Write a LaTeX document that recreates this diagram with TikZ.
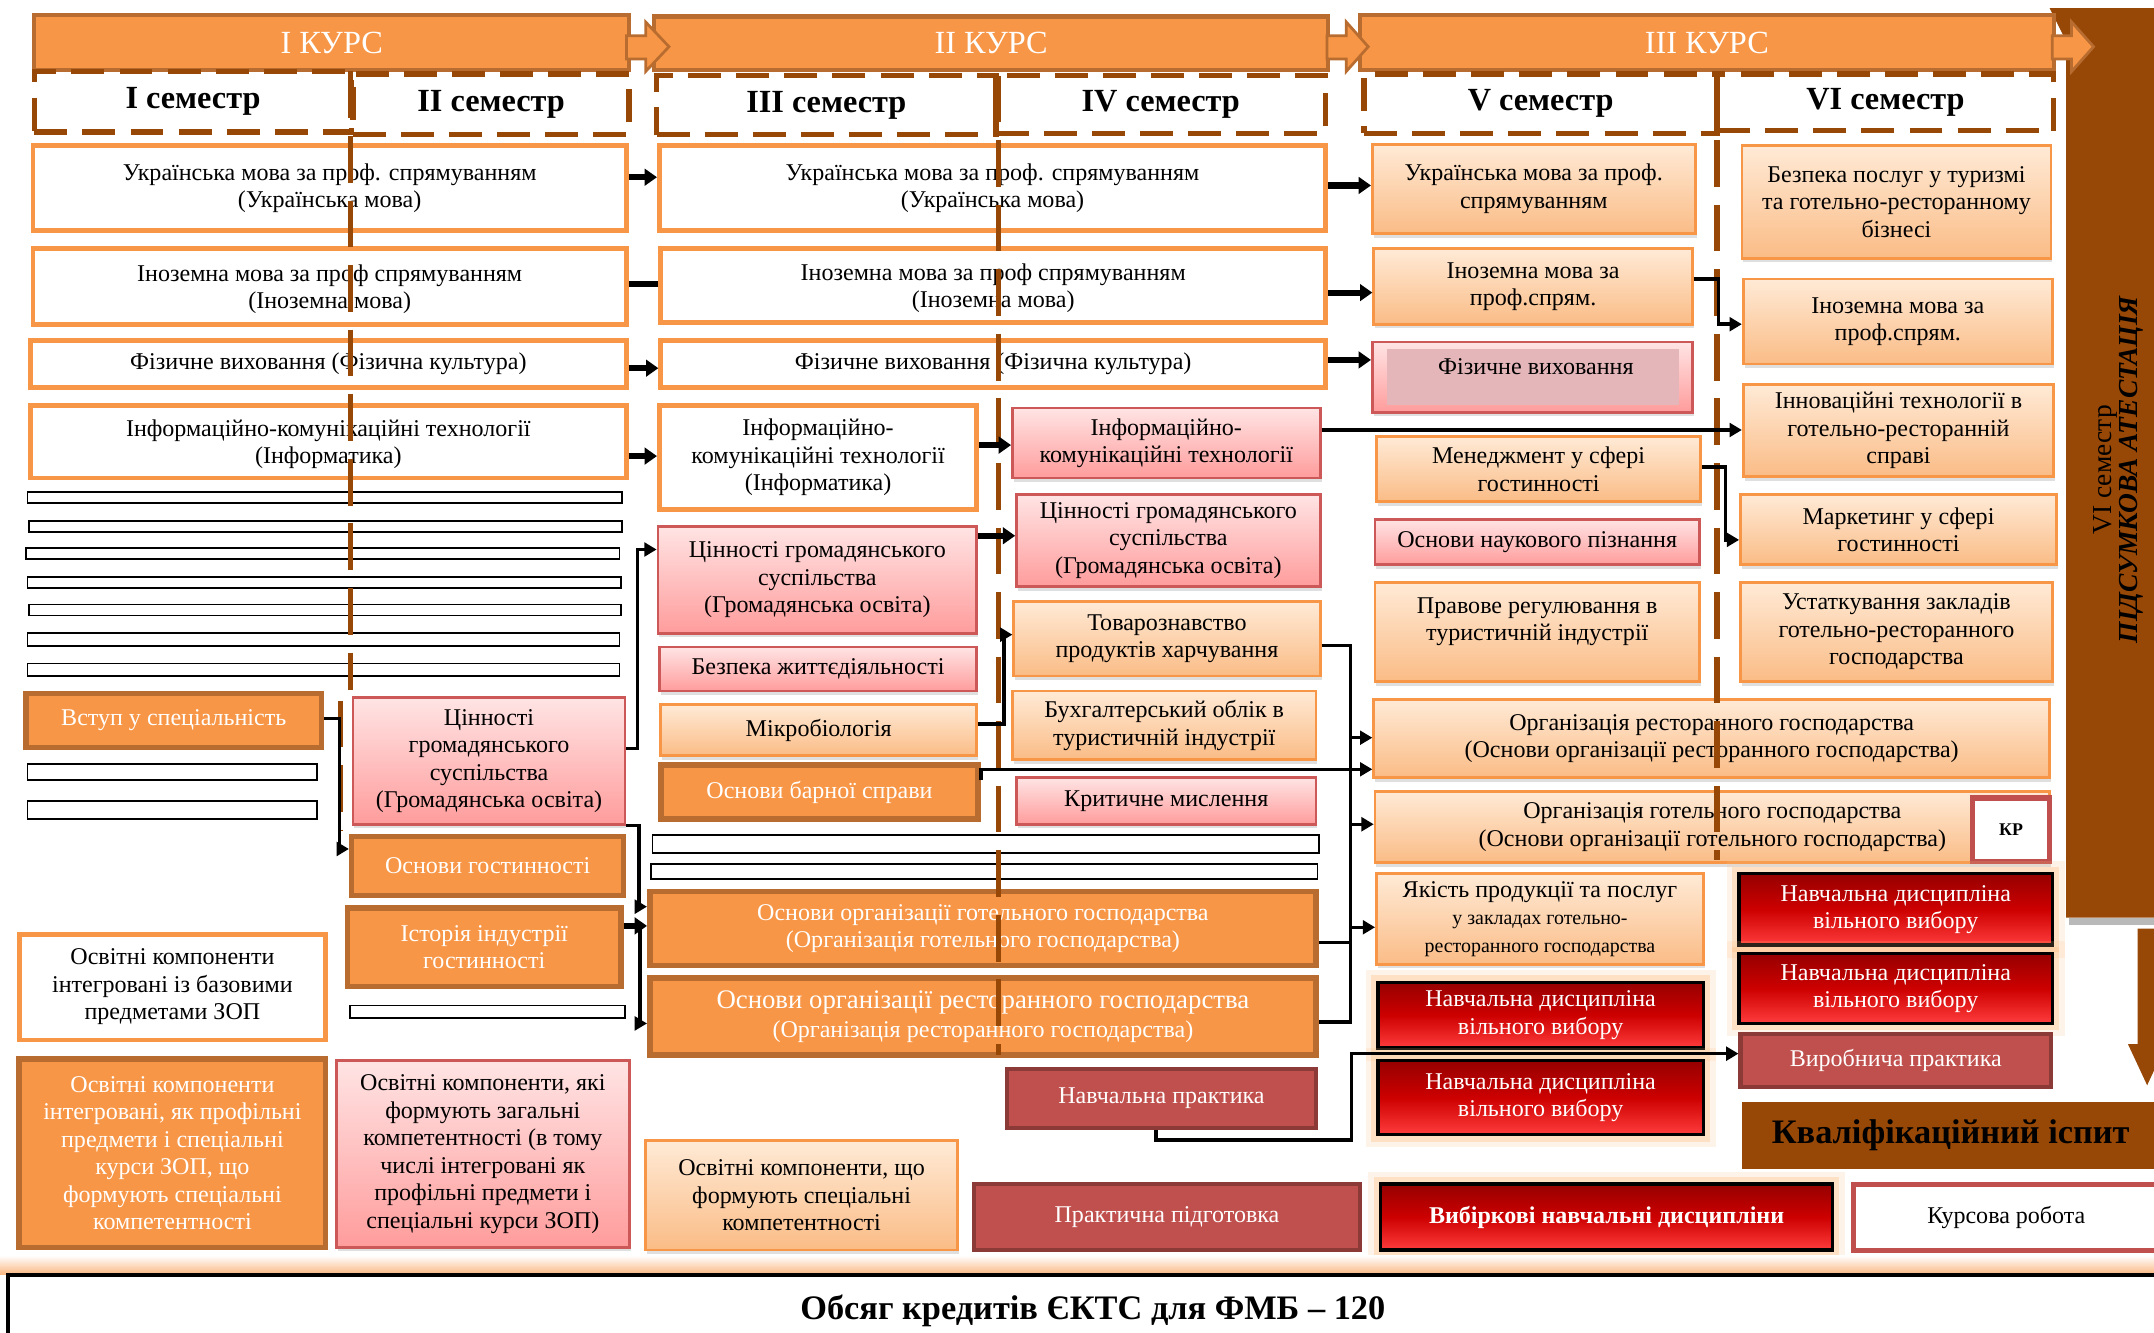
\documentclass[tikz,border=0pt]{standalone}
\usepackage{fontspec}
\setmainfont{Liberation Serif}
\usetikzlibrary{arrows.meta,shadows}
\definecolor{orF}{RGB}{247,150,70}
\definecolor{orD}{RGB}{184,108,48}
\definecolor{brn}{RGB}{152,72,6}
\definecolor{pkT}{RGB}{255,228,228}
\definecolor{pkB}{RGB}{255,156,156}
\definecolor{pkD}{RGB}{205,88,88}
\definecolor{loT}{RGB}{255,234,214}
\definecolor{loB}{RGB}{250,188,134}
\definecolor{drF}{RGB}{192,80,77}
\definecolor{drD}{RGB}{140,58,56}
\definecolor{rgT}{RGB}{150,0,0}
\definecolor{rgM}{RGB}{205,0,0}
\definecolor{rgB}{RGB}{255,60,60}
\definecolor{glw}{RGB}{252,190,130}
\definecolor{fvin}{RGB}{228,182,185}
\newcommand\fA{\fontsize{17.5}{20}\selectfont}
\newcommand\fS{\fontsize{14.5}{19}\selectfont}
\newcommand\fH{\fontsize{23.5}{26}\selectfont}
\newcommand\bx[7]{\node[#1,minimum width={(#5)-(#3)},minimum height={(#6)-(#4)}] (#2) at ({((#3)+(#5))/2},{((#4)+(#6))/2}) {#7};}
\begin{document}
\begin{tikzpicture}[x=1pt,y=-1pt,
  bxbase/.style={inner sep=1pt, align=center, font=\fA},
  wbox/.style={bxbase, fill=white, draw=orF, line width=3.5pt},
  obox/.style={bxbase, fill=orF, draw=orD, line width=4pt, text=white},
  pbox/.style={bxbase, drop shadow={shadow xshift=1pt,shadow yshift=-3pt,opacity=0.25}, top color=pkT, bottom color=pkB, draw=pkD, line width=2pt},
  lbox/.style={bxbase, drop shadow={shadow xshift=1pt,shadow yshift=-3pt,opacity=0.25}, top color=loT, bottom color=loB, draw=orF, line width=2pt},
  rbox/.style={bxbase, fill=drF, draw=drD, line width=3pt, text=white},
  gbox/.style={bxbase, preaction={draw=glw, line width=18pt, opacity=0.18}, preaction={draw=glw, line width=10pt, opacity=0.35}, top color=rgT, bottom color=rgB, middle color=rgM, draw=black, line width=2.5pt, text=white},
  thin/.style={fill=white, draw=black, line width=1.3pt, inner sep=0pt},
  sem/.style={draw=brn, line width=4pt, dash pattern=on 24pt off 11pt, font=\fH\bfseries, inner sep=1pt},
  kurs/.style={fill=orF, draw=orD, line width=3pt, text=white, font=\fH, inner sep=1pt},
  karr/.style={fill=orF, draw=orD, line width=2pt},
  vline/.style={draw=brn, line width=4pt, dash pattern=on 34pt off 13pt},
  ln/.style={draw=black, line width=2.5pt},
  conn/.style={draw=black, line width=2.5pt, -{Triangle[length=9pt,width=10pt]}},
  thk/.style={draw=black, line width=4.5pt, -{Triangle[length=9pt,width=12pt]}}
]
\useasboundingbox (0,0) rectangle (1568,970);

% right brown bar
\fill[brn] (1492,6) -- (1572,6) -- (1572,668) -- (1504,668) -- (1504,30) -- cycle;
\fill[gray!55] (1506,668) rectangle (1572,673);
\fill[brn] (1556,676) -- (1570,676) -- (1570,760) -- (1577,760) -- (1563,790) -- (1549,760) -- (1556,760) -- cycle;
\node[rotate=90, align=center, inner sep=0pt] (att) at (1542,342) {{\fontsize{20}{27}\selectfont VI семестр}\\{\fontsize{20}{27}\selectfont\bfseries\itshape ПІДСУМКОВА АТЕСТАЦІЯ}};

% course bars
\bx{kurs, text depth=-3pt}{k1}{25}{11}{458}{51}{I КУРС}
\bx{kurs, text depth=-3pt}{k2}{476}{12}{967}{51}{II КУРС}
\bx{kurs, text depth=-3pt}{k3}{990}{11}{1495}{51}{III КУРС}
\draw[karr] (456,26) -- (470,26) -- (470,16) -- (487,34) -- (470,52) -- (470,43) -- (456,43) -- cycle;
\draw[karr] (966,26) -- (980,26) -- (980,16) -- (996,34) -- (980,52) -- (980,43) -- (966,43) -- cycle;
\draw[karr] (1494,26) -- (1508,26) -- (1508,16) -- (1524,34) -- (1508,52) -- (1508,43) -- (1494,43) -- cycle;

% semesters
\bx{sem}{s1}{25}{52}{256}{96}{I семестр}
\bx{sem}{s2}{257}{54}{458}{98}{II семестр}
\bx{sem}{s3}{478}{55}{725}{98}{III семестр}
\bx{sem}{s4}{725}{55}{965}{97}{IV семестр}
\bx{sem}{s5}{993}{54}{1250}{97}{V семестр}
\bx{sem}{s6}{1250}{54}{1495}{95}{VI семестр}

% course I
\bx{wbox}{c1r1}{24}{106}{456}{168}{Українська мова за проф. спрямуванням\\(Українська мова)}
\bx{wbox, text depth=-1pt}{c1r2}{24}{181}{456}{236}{Іноземна мова за проф спрямуванням\\(Іноземна мова)}
\bx{wbox}{c1r3}{22}{248}{456}{282}{Фізичне виховання (Фізична культура)}
\bx{wbox, text depth=-1pt}{c1r4}{22}{295}{456}{348}{Інформаційно-комунікаційні технології\\(Інформатика)}
\bx{thin}{t1}{20}{358}{453}{366}{}
\bx{thin}{t2}{21}{379}{453}{387}{}
\bx{thin}{t3}{19}{399}{451}{407}{}
\bx{thin}{t4}{20}{420}{452}{428}{}
\bx{thin}{t5}{21}{440}{452}{448}{}
\bx{thin}{t6}{20}{461}{451}{470}{}
\bx{thin}{t7}{20}{483}{451}{492}{}
\bx{obox}{vstup}{19}{505}{234}{544}{Вступ у спеціальність}
\bx{thin}{t8}{20}{556}{231}{568}{}
\bx{thin}{t9}{20}{583}{231}{596}{}
\bx{pbox}{cin1}{257}{508}{455}{600}{Цінності\\громадянського\\суспільства\\(Громадянська освіта)}
\bx{obox}{osnhost}{256}{609}{454}{652}{Основи гостинності}
\bx{obox}{istoria}{253}{661}{452}{718}{Історія індустрії\\гостинності}
\bx{thin}{t10}{255}{732}{455}{741}{}

% course II
\bx{wbox}{c2r1}{480}{106}{965}{168}{Українська мова за проф. спрямуванням\\(Українська мова)}
\bx{wbox, text depth=-1pt}{c2r2}{481}{181}{965}{235}{Іноземна мова за проф спрямуванням\\(Іноземна мова)}
\bx{wbox}{c2r3}{481}{248}{965}{282}{Фізичне виховання (Фізична культура)}
\bx{wbox}{ikt3}{480}{295}{711}{371}{Інформаційно-\\комунікаційні технології\\(Інформатика)}
\bx{pbox}{ikt4}{737}{297}{961}{348}{Інформаційно-\\комунікаційні технології}
\bx{pbox}{cin3}{479}{383}{711}{461}{Цінності громадянського\\суспільства\\(Громадянська освіта)}
\bx{pbox}{cin4}{740}{360}{961}{427}{Цінності громадянського\\суспільства\\(Громадянська освіта)}
\bx{pbox}{bzh}{480}{471}{711}{503}{Безпека життєдіяльності}
\bx{lbox}{tov}{738}{438}{961}{492}{Товарознавство\\продуктів харчування}
\bx{lbox}{mikro}{481}{513}{711}{550}{Мікробіологія}
\bx{lbox}{buh}{737}{503}{958}{553}{Бухгалтерський облік в\\туристичній індустрії}
\bx{obox}{barna}{481}{557}{712}{596}{Основи барної справи}
\bx{pbox}{krit}{740}{566}{958}{600}{Критичне мислення}
\bx{thin}{t11}{475}{608}{960}{621}{}
\bx{thin}{t12}{474}{629}{959}{640}{}
\bx{obox}{oohg}{473}{649}{958}{703}{Основи організації готельного господарства\\(Організація готельного господарства)}
\bx{obox, font=\fontsize{19.5}{21}\selectfont}{oorg}{473}{712}{958}{768}{Основи організації ресторанного господарства\\{\fA(Організація ресторанного господарства)}}
\bx{rbox}{navpr}{733}{778}{958}{821}{Навчальна практика}

% course III
\bx{lbox}{c3um}{999}{105}{1234}{170}{Українська мова за проф.\\спрямуванням}
\bx{lbox}{c3im}{1000}{181}{1232}{236}{Іноземна мова за\\проф.спрям.}
\bx{pbox}{c3fv}{999}{249}{1232}{300}{}
\fill[fvin] (1010,254) rectangle (1222,295);
\node[font=\fA, inner sep=0pt] (c3fvt) at (1118,267) {Фізичне виховання};
\bx{lbox}{men}{1002}{318}{1238}{365}{Менеджмент у сфері\\гостинності}
\bx{pbox}{onp}{1001}{378}{1237}{411}{Основи наукового пізнання}
\bx{lbox, text depth=19pt}{prav}{1001}{424}{1237}{496}{Правове регулювання в\\туристичній індустрії}
\bx{lbox}{org_r}{1000}{509}{1492}{566}{Організація ресторанного господарства\\(Основи організації ресторанного господарства)}
\bx{lbox}{org_g}{1001}{576}{1492}{628}{Організація готельного господарства\\(Основи організації готельного господарства)}
\bx{bxbase, fill=white, draw=drF, line width=4pt, font=\fontsize{13}{15}\selectfont\bfseries}{kp}{1436}{581}{1492}{627}{КР}
\bx{lbox}{yak}{1002}{636}{1240}{702}{Якість продукції та послуг\\{\fS у закладах готельно-}\\{\fS ресторанного господарства}}
\bx{gbox}{nd1}{1003}{715}{1240}{763}{Навчальна дисципліна\\вільного вибору}
\bx{gbox}{nd2}{1003}{772}{1240}{826}{Навчальна дисципліна\\вільного вибору}
\bx{lbox}{c6b}{1268}{106}{1493}{188}{Безпека послуг у туризмі\\та готельно-ресторанному\\бізнесі}
\bx{lbox}{c6im}{1269}{203}{1494}{265}{Іноземна мова за\\проф.спрям.}
\bx{lbox}{c6inn}{1269}{280}{1495}{347}{Інноваційні технології в\\готельно-ресторанній\\справі}
\bx{lbox}{c6mk}{1267}{360}{1497}{411}{Маркетинг у сфері\\гостинності}
\bx{lbox}{c6ust}{1267}{424}{1494}{496}{Устаткування закладів\\готельно-ресторанного\\господарства}
\bx{gbox}{nd3}{1266}{636}{1494}{688}{Навчальна дисципліна\\вільного вибору}
\bx{gbox}{nd4}{1266}{694}{1494}{745}{Навчальна дисципліна\\вільного вибору}
\bx{rbox}{vyr}{1267}{753}{1493}{791}{Виробнича практика}
\bx{bxbase, fill=brn, font=\fontsize{25}{28}\selectfont\bfseries}{kval}{1268}{802}{1572}{851}{Кваліфікаційний іспит}

% legend
\bx{wbox}{lg1}{14}{680}{237}{757}{Освітні компоненти\\інтегровані із базовими\\предметами ЗОП}
\bx{obox}{lg2}{14}{771}{237}{908}{Освітні компоненти\\інтегровані, як профільні\\предмети і спеціальні\\курси ЗОП, що\\формують спеціальні\\компетентності}
\bx{pbox}{lg3}{245}{772}{458}{908}{Освітні компоненти, які\\формують загальні\\компетентності (в тому\\числі інтегровані як\\профільні предмети і\\спеціальні курси ЗОП)}
\bx{lbox}{lg4}{470}{830}{697}{910}{Освітні компоненти, що\\формують спеціальні\\компетентності}
\bx{rbox}{lg5}{709}{862}{990}{910}{Практична підготовка}
\bx{gbox, font=\fA\bfseries}{lg6}{1005}{862}{1334}{910}{Вибіркові навчальні дисципліни}
\bx{bxbase, fill=white, draw=drF, line width=3.5pt}{lg7}{1349}{862}{1572}{910}{Курсова робота}

% bottom bar
\shade[top color=white, bottom color=orF!70] (0,914) rectangle (1568,928);
\bx{bxbase, fill=white, draw=black, line width=3pt, font=\fontsize{25}{28}\selectfont\bfseries}{bot}{6}{928}{1585}{980}{Обсяг кредитів ЄКТС для ФМБ – 120}

% brown vertical course lines
\draw[vline] (255,52) -- (255,502);
\draw[vline] (248,510) -- (248,605);
\draw[vline] (727,55) -- (727,768);
\draw[vline] (1250,55) -- (1250,626);

% connectors
\draw[thk] (c1r1.east |- 0,129) -- (c2r1.west |- 0,129);
\draw[line width=4.5pt] (c1r2.east |- 0,207) -- (c2r2.west |- 0,207);
\draw[thk] (c1r3.east |- 0,268) -- (c2r3.west |- 0,268);
\draw[thk] (c1r4.east |- 0,332) -- (ikt3.west |- 0,332);
\draw[thk] (c2r1.east |- 0,135) -- (c3um.west |- 0,135);
\draw[thk] (c2r2.east |- 0,213) -- (c3im.west |- 0,213);
\draw[thk] (c2r3.east |- 0,262) -- (c3fv.west |- 0,262);
\draw[thk] (ikt3.east |- 0,324) -- (ikt4.west |- 0,324);
\draw[thk] (cin3.east |- 0,390) -- (cin4.west |- 0,390);
\draw[conn] (ikt4.east |- 0,313) -- (c6inn.west |- 0,313);
\draw[conn] (vstup.east |- 0,523) -- ++(11,0) |- (osnhost.west |- 0,618);
\draw[conn] (cin1.east |- 0,545) -- ++(8,0) |- (cin3.west |- 0,400);
\draw[conn] (cin1.south east) -- ++(9,0) |- (oohg.west |- 0,660);
\draw[thk] (istoria.east |- 0,674) -- (oohg.west |- 0,674);
\draw[conn] (istoria.east |- 0,674) ++(12,0) |- (oorg.west |- 0,745);
\draw[conn] (mikro.east |- 0,527) -- ++(19,0) |- (tov.west |- 0,462);
\draw[conn] (barna.east |- 0,568) |- (org_r.west |- 0,560);
\coordinate (busT) at (983,470);
\coordinate (busB) at (983,744);
\coordinate (busP) at (984,830);
\draw[ln] (tov.east |- busT) -- (busT) -- (busB) -- (oorg.east |- busB);
\draw[ln] (oohg.east |- 0,686) -- (busT |- 0,686);
\draw[conn] (busT |- 0,537) -- (org_r.west |- 0,537);
\draw[conn] (busT |- 0,600) -- (org_g.west |- 0,600);
\draw[conn] (busT |- 0,675) -- (yak.west |- 0,675);
\draw[conn] ([xshift=-4pt]navpr.south) |- (busP) |- (vyr.west |- 0,767);
\draw[conn] (c3im.east |- 0,203) -- ++(18,0) |- (c6im.west |- 0,236);
\draw[conn] (men.east |- 0,340) -- ++(17,0) |- (c6mk.west |- 0,393);
\end{tikzpicture}
\end{document}
